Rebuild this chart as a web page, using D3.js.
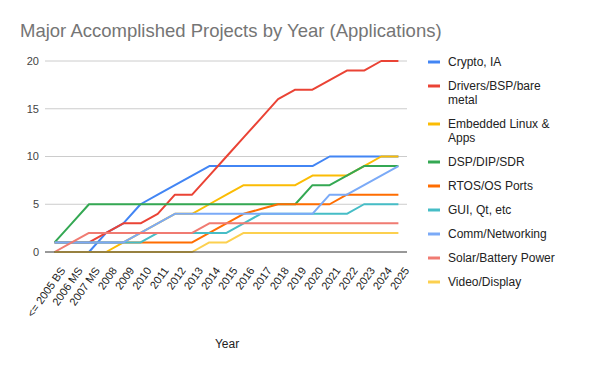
<!DOCTYPE html>
<html lang="en">
<head>
  <meta charset="UTF-8">
  <title>Major Accomplished Projects by Year</title>
  <style>
    body { margin: 0; background: #fff; }
    text { font-family: "Liberation Sans", Arial, sans-serif; }
  </style>
</head>
<body>
  <script src="https://d3js.org/d3.v7.min.js"></script>
  <div id="chart"></div>
  <script>
    // categories along the x axis
    var years = ["<= 2005 BS", "2006 MS", "2007 MS", "2008", "2009", "2010", "2011", "2012", "2013", "2014",
      "2015", "2016", "2017", "2018", "2019", "2020", "2021", "2022", "2023", "2024", "2025"];

    // one array per series
    // (named cryptoIA: a global called "crypto" clashes with window.crypto)
    var cryptoIA  = [0, 0, 0, 2, 3, 5, 6, 7, 8, 9, 9, 9, 9, 9, 9, 9, 10, 10, 10, 10, 10];
    var drivers   = [1, 1, 1, 2, 3, 3, 4, 6, 6, 8, 10, 12, 14, 16, 17, 17, 18, 19, 19, 20, 20];
    var embedded  = [0, 0, 0, 0, 1, 2, 3, 4, 4, 5, 6, 7, 7, 7, 7, 8, 8, 8, 9, 10, 10];
    var dsp       = [1, 3, 5, 5, 5, 5, 5, 5, 5, 5, 5, 5, 5, 5, 5, 7, 7, 8, 9, 9, 9];
    var rtos      = [1, 1, 1, 1, 1, 1, 1, 1, 1, 2, 3, 4, 4.5, 5, 5, 5, 5, 6, 6, 6, 6];
    var gui       = [1, 1, 1, 1, 1, 1, 2, 2, 2, 2, 2, 3, 4, 4, 4, 4, 4, 4, 5, 5, 5];
    var comm      = [1, 1, 1, 1, 1, 2, 3, 4, 4, 4, 4, 4, 4, 4, 4, 4, 6, 6, 7, 8, 9];
    var solar     = [0, 1, 2, 2, 2, 2, 2, 2, 2, 3, 3, 3, 3, 3, 3, 3, 3, 3, 3, 3, 3];
    var video     = [0, 0, 0, 0, 0, 0, 0, 0, 0, 1, 1, 2, 2, 2, 2, 2, 2, 2, 2, 2, 2];

    var seriesNames = ["Crypto, IA", "Drivers/BSP/bare metal", "Embedded Linux & Apps", "DSP/DIP/SDR",
      "RTOS/OS Ports", "GUI, Qt, etc", "Comm/Networking", "Solar/Battery Power", "Video/Display"];
    var seriesValues = [cryptoIA, drivers, embedded, dsp, rtos, gui, comm, solar, video];
    var colors = ["#4285F4", "#EA4335", "#FBBC04", "#34A853", "#FF6D01", "#46BDC6", "#7BAAF7", "#F07B72", "#FCD04F"];
    var yTicks = [0, 5, 10, 15, 20];

    var width = 593, height = 371;

    var svg = d3.select("#chart").append("svg")
      .attr("width", width)
      .attr("height", height);

    // title
    svg.append("text")
      .attr("x", 20)
      .attr("y", 37)
      .style("font-size", "18.5px")
      .style("fill", "#757575")
      .text("Major Accomplished Projects by Year (Applications)");

    var x = d3.scalePoint()
      .domain(years)
      .range([46, 407])
      .padding(0.5);

    var y = d3.scaleLinear()
      .domain([0, 20])
      .range([252, 61]);

    // gridlines + y labels
    var grid = svg.append("g");
    grid.selectAll("line")
      .data(yTicks.filter(d => d > 0))
      .enter().append("line")
      .attr("x1", 45).attr("x2", 407)
      .attr("y1", d => y(d)).attr("y2", d => y(d))
      .style("stroke", "#cccccc")
      .style("stroke-width", 1);

    grid.selectAll("text")
      .data(yTicks)
      .enter().append("text")
      .attr("x", 39)
      .attr("y", d => y(d))
      .attr("dy", "0.35em")
      .style("text-anchor", "end")
      .style("font-size", "11px")
      .style("fill", "#444")
      .text(d => d);

    // series lines
    var line = d3.line()
      .x((d, i) => x(years[i]))
      .y(d => y(d));

    svg.append("g").selectAll("path")
      .data(seriesValues)
      .enter().append("path")
      .attr("d", line)
      .style("fill", "none")
      .style("stroke", (d, i) => colors[i])
      .style("stroke-width", 2)
      .style("stroke-linejoin", "round");

    // baseline
    svg.append("line")
      .attr("x1", 45).attr("x2", 407)
      .attr("y1", y(0)).attr("y2", y(0))
      .style("stroke", "#333")
      .style("stroke-width", 1);

    // rotated x labels
    svg.append("g").selectAll("text")
      .data(years)
      .enter().append("text")
      .attr("transform", d => "translate(" + (x(d) + 5) + ",266) rotate(-55)")
      .attr("dy", "0.71em")
      .style("text-anchor", "end")
      .style("font-size", "11px")
      .style("fill", "#222")
      .text(d => d);

    // x axis title
    svg.append("text")
      .attr("x", 227)
      .attr("y", 348)
      .style("text-anchor", "middle")
      .style("font-size", "12px")
      .style("fill", "#222")
      .text("Year");

    // legend, wrapping long names
    var legend = svg.append("g");
    var ly = 62;
    seriesNames.forEach(function (name, i) {
      legend.append("line")
        .attr("x1", 428).attr("x2", 440)
        .attr("y1", ly).attr("y2", ly)
        .style("stroke", colors[i])
        .style("stroke-width", 3);

      var t = legend.append("text")
        .attr("x", 448)
        .attr("y", ly)
        .attr("dy", "0.35em")
        .style("font-size", "12px")
        .style("fill", "#222");

      var words = name.split(" "), lines = [], cur = [];
      words.forEach(function (w) {
        t.text(cur.concat([w]).join(" "));
        if (cur.length && t.node().getComputedTextLength() > 112) {
          lines.push(cur.join(" "));
          cur = [w];
        } else {
          cur.push(w);
        }
      });
      lines.push(cur.join(" "));
      t.text(null);
      lines.forEach(function (l, k) {
        t.append("tspan")
          .attr("x", 448)
          .attr("y", ly + k * 14)
          .attr("dy", "0.35em")
          .text(l);
      });
      ly += 24 + 14 * (lines.length - 1);
    });
  </script>
</body>
</html>
